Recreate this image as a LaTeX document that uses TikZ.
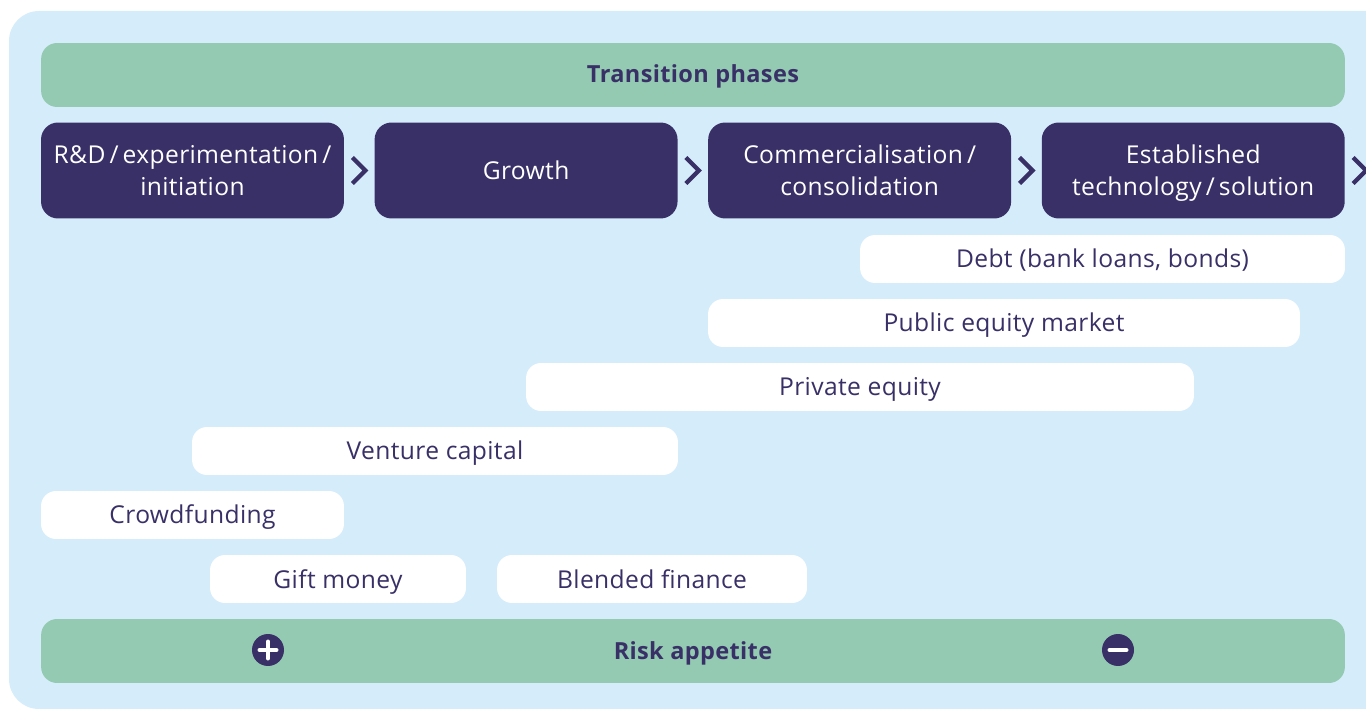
\documentclass[tikz,border=0pt]{standalone}
\usepackage{xcolor}
\usepackage{fontspec}
\usepackage{tikz}
\setmainfont{Open Sans}[LetterSpace=1.5]

\definecolor{panelblue}{HTML}{D5ECFA}
\definecolor{bargreen}{HTML}{93CAB1}
\definecolor{darkpurple}{HTML}{393067}

\tikzset{
  header/.style={fill=bargreen, text=darkpurple, rounded corners=0.32cm, minimum width=26.08cm, minimum height=1.28cm, inner sep=0pt, text height=0.5cm, text depth=0.18cm, font=\bfseries\fontsize{13.4}{16}\selectfont},
  phase/.style={fill=darkpurple, text=white, rounded corners=0.34cm, minimum width=6.06cm, minimum height=1.92cm, inner sep=0pt, align=center, text depth=0pt, font=\fontsize{14}{18.2}\selectfont},
  bar/.style={fill=white, text=darkpurple, rounded corners=0.3cm, minimum height=0.96cm, inner sep=0pt, text height=0.5cm, text depth=0.14cm, font=\fontsize{14}{18.2}\selectfont},
  chevron/.style={draw=darkpurple, line width=0.085cm},
  sign/.style={circle, fill=darkpurple, minimum size=0.64cm, inner sep=0pt},
  stroke/.style={draw=white, line width=0.08cm, line cap=round}
}

\begin{document}
\begin{tikzpicture}[x=0.02cm, y=-0.02cm, node distance=6.673cm]

  \path [clip, use as bounding box] (0,0) rectangle (1366,709);

  \fill [panelblue, rounded corners=0.6cm] (1400,11) -- (9,11) -- (9,709) -- (1400,709) -- cycle;

  \node [header] (T) at (693,75) {Transition phases};

  \node [phase] (S1) at (192.5,170.5) {R\&D\,/\,experimentation\,/\\initiation};
  \node [phase, right of = S1] (S2) {Growth};
  \node [phase, right of = S2] (S3) {Commercialisation\,/\\consolidation};
  \node [phase, right of = S3] (S4) {Established\\technology\,/\,solution};

  \foreach \a in {S1,S2,S3,S4}
    \draw [chevron] ([shift={(8,-13)}]\a.east) -- ([shift={(21,0)}]\a.east) -- ([shift={(8,13)}]\a.east);

  \node [bar, minimum width=9.7cm] (B1) at (1102.5,259) {Debt (bank loans, bonds)};
  \node [bar, minimum width=11.84cm] (B2) at (1004,323) {Public equity market};
  \node [bar, minimum width=13.36cm] (B3) at (860,387) {Private equity};
  \node [bar, minimum width=9.72cm] (B4) at (435,451) {Venture capital};
  \node [bar, minimum width=6.06cm] (B5) at (192.5,515) {Crowdfunding};
  \node [bar, minimum width=5.12cm] (B6) at (338,579) {Gift money};
  \node [bar, minimum width=6.2cm] (B7) at (652,579) {Blended finance};

  \node [header] (R) at (693,651) {Risk appetite};

  \node [sign] (P) at (268,650) {};
  \node [sign] (M) at (1118,650) {};

  \draw [stroke] ([xshift=-0.17cm]P.center) -- ([xshift=0.17cm]P.center);
  \draw [stroke] ([yshift=-0.17cm]P.center) -- ([yshift=0.17cm]P.center);
  \draw [stroke] ([xshift=-0.17cm]M.center) -- ([xshift=0.17cm]M.center);

\end{tikzpicture}
\end{document}
